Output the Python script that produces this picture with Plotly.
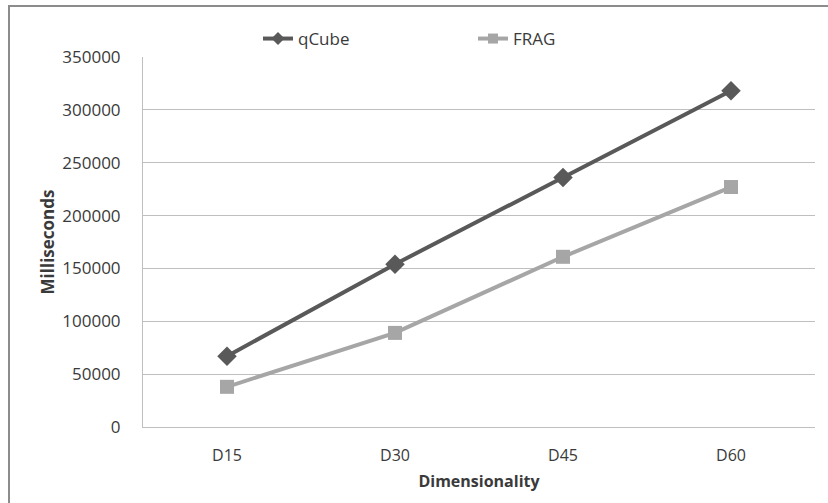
import plotly.graph_objects as go

categories = ["D15", "D30", "D45", "D60"]
qcube = [67000, 154000, 236000, 318000]
frag = [38000, 89000, 161000, 227000]
y_ticks = [0, 50000, 100000, 150000, 200000, 250000, 300000, 350000]

FONT = "Open Sans"
TXT = "#3a3a3a"
QC_COLOR = "#595959"
FR_COLOR = "#a6a6a6"
W, H = 828, 503
L, R, T, B = 143, 13, 57, 76
pw, ph = W - L - R, H - T - B

def px_x(px):
    return (px - L) / pw

def px_y(py):
    return (H - B - py) / ph

fig = go.Figure()
fig.add_trace(go.Scatter(
    x=categories, y=qcube, name="qCube", mode="lines+markers",
    line=dict(color=QC_COLOR, width=4),
    marker=dict(symbol="diamond", size=15, color=QC_COLOR),
    showlegend=False,
))
fig.add_trace(go.Scatter(
    x=categories, y=frag, name="FRAG", mode="lines+markers",
    line=dict(color=FR_COLOR, width=4),
    marker=dict(symbol="square", size=14, color=FR_COLOR),
    showlegend=False,
))
# legend entries with smaller symbols, like the reference legend
fig.add_trace(go.Scatter(
    x=[None], y=[None], name="qCube", mode="lines+markers",
    line=dict(color=QC_COLOR, width=4),
    marker=dict(symbol="diamond", size=10, color=QC_COLOR),
    legend="legend", showlegend=True, hoverinfo="skip",
))
fig.add_trace(go.Scatter(
    x=[None], y=[None], name="FRAG", mode="lines+markers",
    line=dict(color=FR_COLOR, width=4),
    marker=dict(symbol="square", size=10, color=FR_COLOR),
    legend="legend2", showlegend=True, hoverinfo="skip",
))

fig.update_layout(
    width=W, height=H,
    margin=dict(l=L, r=R, t=T, b=B),
    paper_bgcolor="white", plot_bgcolor="white",
    font=dict(family=FONT, size=16, color=TXT),
    showlegend=True,
    legend=dict(orientation="h", x=px_x(258), y=px_y(39), xanchor="left", yanchor="middle",
                bgcolor="rgba(0,0,0,0)", font=dict(size=17)),
    legend2=dict(orientation="h", x=px_x(473), y=px_y(39), xanchor="left", yanchor="middle",
                 bgcolor="rgba(0,0,0,0)", font=dict(size=17)),
    xaxis=dict(
        title=dict(text="<b>Dimensionality</b>", font=dict(size=16), standoff=10),
        range=[-0.5, 3.5], tickfont=dict(size=16),
        showgrid=False, showline=True, linecolor="#bfbfbf", linewidth=1,
        ticks="", ticklabelstandoff=14, fixedrange=True,
    ),
    yaxis=dict(
        title=dict(text="<b>Milliseconds</b>", font=dict(size=17), standoff=3),
        range=[0, 350000], tickvals=y_ticks, ticktext=[str(v) for v in y_ticks],
        tickfont=dict(size=17),
        showgrid=True, gridcolor="#bfbfbf", gridwidth=1,
        showline=True, linecolor="#bfbfbf", linewidth=1,
        zeroline=False, ticks="", ticklabelstandoff=18,
    ),
    shapes=[
        dict(type="rect", xref="paper", yref="paper", layer="above",
             x0=px_x(9), x1=px_x(900), y0=px_y(600), y1=px_y(6),
             fillcolor="rgba(0,0,0,0)", line=dict(color="#8c8c8c", width=2)),
    ],
)

fig.write_html("out.html")
